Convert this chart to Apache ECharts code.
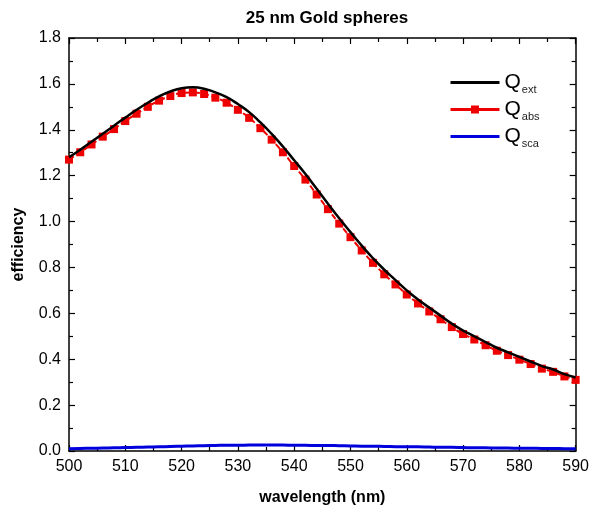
<!DOCTYPE html>
<html>
<head>
<meta charset="utf-8">
<script src="https://cdn.jsdelivr.net/npm/echarts@6/dist/echarts.min.js"></script>
<style>
  html, body { margin: 0; padding: 0; background: #fff; }
  #chart { width: 592px; height: 514px; }
</style>
</head>
<body>
<div id="chart"></div>
<script>
// Wavelength grid (nm)
const wavelength = [500, 502, 504, 506, 508, 510, 512, 514, 516, 518,
                    520, 522, 524, 526, 528, 530, 532, 534, 536, 538,
                    540, 542, 544, 546, 548, 550, 552, 554, 556, 558,
                    560, 562, 564, 566, 568, 570, 572, 574, 576, 578,
                    580, 582, 584, 586, 588, 590];

// Extinction efficiency
const qExt = [1.28, 1.313, 1.348, 1.383, 1.418, 1.453, 1.487, 1.518, 1.546, 1.567,
              1.581, 1.585, 1.579, 1.563, 1.542, 1.512, 1.477, 1.432, 1.382, 1.327,
              1.267, 1.207, 1.143, 1.078, 1.014, 0.954, 0.895, 0.84, 0.79, 0.745,
              0.70, 0.66, 0.625, 0.59, 0.555, 0.525, 0.50, 0.475, 0.45, 0.43,
              0.41, 0.39, 0.37, 0.355, 0.335, 0.32];

// Absorption efficiency
const qAbs = [1.27, 1.302, 1.336, 1.37, 1.403, 1.438, 1.47, 1.50, 1.527, 1.547,
              1.56, 1.563, 1.556, 1.54, 1.518, 1.487, 1.452, 1.407, 1.357, 1.302,
              1.242, 1.183, 1.118, 1.054, 0.991, 0.932, 0.874, 0.82, 0.77, 0.726,
              0.682, 0.643, 0.608, 0.574, 0.54, 0.51, 0.486, 0.461, 0.437, 0.418,
              0.398, 0.379, 0.359, 0.345, 0.325, 0.31];

// Scattering efficiency
const qSca = [0.010, 0.011, 0.012, 0.013, 0.014, 0.015, 0.016, 0.017, 0.018, 0.020,
              0.021, 0.022, 0.023, 0.024, 0.025, 0.025, 0.026, 0.026, 0.026, 0.026,
              0.025, 0.025, 0.024, 0.024, 0.023, 0.022, 0.021, 0.021, 0.020, 0.019,
              0.018, 0.018, 0.017, 0.016, 0.016, 0.015, 0.014, 0.014, 0.013, 0.013,
              0.012, 0.012, 0.011, 0.011, 0.010, 0.010];

const xTicks = { min: 500, max: 590, interval: 10 };
const yTicks = { min: 0, max: 1.8, interval: 0.2 };

const pairs = (ys) => wavelength.map((w, i) => [w, ys[i]]);

const FONT = '"Liberation Sans", Arial, sans-serif';
const RED = '#ee0000';
const BLUE = '#0000dd';

const axisCommon = {
  axisLine: { show: true, onZero: false, lineStyle: { color: '#000', width: 1.5 } },
  axisTick: { show: true, inside: true, length: 6, lineStyle: { color: '#000', width: 1.2 } },
  minorTick: { show: true, splitNumber: 2, length: 4, lineStyle: { color: '#000', width: 1.2 } },
  splitLine: { show: false }
};

const chart = echarts.init(document.getElementById('chart'), null, { renderer: 'canvas' });

chart.setOption({
  animation: false,
  backgroundColor: '#fff',
  title: {
    text: '25 nm Gold spheres',
    left: 322, top: 5, textAlign: 'center',
    textStyle: { fontFamily: FONT, fontWeight: 'bold', fontSize: 17, color: '#000' }
  },
  grid: { left: 69, top: 38, right: 16, bottom: 63 },
  legend: {
    orient: 'vertical',
    left: 444, top: 65,
    itemWidth: 49, itemHeight: 10, itemGap: 2,
    data: [
      { name: 'ext', itemStyle: { opacity: 0 }, lineStyle: { width: 3, color: '#000' } },
      { name: 'abs', lineStyle: { width: 3, color: RED, type: 'solid' } },
      { name: 'sca', itemStyle: { opacity: 0 }, lineStyle: { width: 3, color: BLUE } }
    ],
    formatter: (name) => '{q|Q}{s|' + name + '}',
    textStyle: {
      fontFamily: FONT,
      rich: {
        q: { fontSize: 21, fontFamily: FONT, color: '#000', lineHeight: 22 },
        s: { fontSize: 11, fontFamily: FONT, color: '#222', padding: [14, 0, 0, 1], lineHeight: 22 }
      }
    }
  },
  xAxis: [
    Object.assign({
      type: 'value', position: 'bottom',
      min: xTicks.min, max: xTicks.max, interval: xTicks.interval,
      name: 'wavelength (nm)', nameLocation: 'middle', nameGap: 39,
      nameTextStyle: { fontFamily: FONT, fontWeight: 'bold', fontSize: 16, color: '#000' },
      axisLabel: { fontFamily: FONT, fontSize: 16, color: '#000', margin: 8 }
    }, axisCommon),
    Object.assign({
      type: 'value', position: 'top',
      min: xTicks.min, max: xTicks.max, interval: xTicks.interval,
      axisLabel: { show: false }
    }, axisCommon)
  ],
  yAxis: [
    Object.assign({
      type: 'value', position: 'left',
      min: yTicks.min, max: yTicks.max, interval: yTicks.interval,
      name: 'efficiency', nameLocation: 'middle', nameGap: 42, nameRotate: 90,
      nameTextStyle: { fontFamily: FONT, fontWeight: 'bold', fontSize: 16, color: '#000' },
      axisLabel: { fontFamily: FONT, fontSize: 16, color: '#000', margin: 8,
                   formatter: (v) => v.toFixed(1) }
    }, axisCommon),
    Object.assign({
      type: 'value', position: 'right',
      min: yTicks.min, max: yTicks.max, interval: yTicks.interval,
      axisLabel: { show: false }
    }, axisCommon)
  ],
  series: [
    {
      name: 'sca', type: 'line', data: pairs(qSca), smooth: true,
      showSymbol: false, symbol: 'none',
      lineStyle: { color: BLUE, width: 3 }, itemStyle: { color: BLUE }, z: 2
    },
    {
      name: 'abs', type: 'line', data: pairs(qAbs), smooth: true,
      symbol: 'rect', symbolSize: 8, showSymbol: true,
      lineStyle: { color: RED, width: 2, type: [6, 3] },
      itemStyle: { color: RED }, z: 3
    },
    {
      name: 'ext', type: 'line', data: pairs(qExt), smooth: true,
      showSymbol: false, symbol: 'none',
      lineStyle: { color: '#000', width: 2.5 }, itemStyle: { color: '#000' }, z: 4
    }
  ]
});
</script>
</body>
</html>
